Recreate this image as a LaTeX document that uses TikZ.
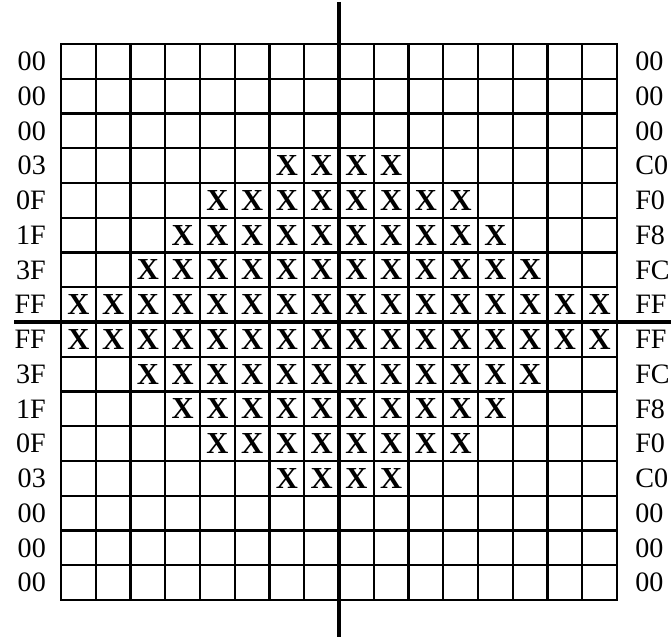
\documentclass[tikz,border=0pt]{standalone}
\usepackage{fontspec}
\setmainfont{Liberation Serif}
\usepackage{tikz}
\usetikzlibrary{positioning}

\begin{document}
\begin{tikzpicture}[
            x=1cm, y=1cm,
            cellgrid/.style={line width=2pt, line cap=rect},
            axis/.style={line width=2.6pt},
            hexl/.style={font=\fontsize{23}{23}\selectfont, anchor=east, inner sep=0pt},
            hexr/.style={font=\fontsize{23}{23}\selectfont, anchor=west, inner sep=0pt},
            xcell/.style={font=\fontsize{25}{25}\selectfont\bfseries, inner sep=0pt}
          ]
          \useasboundingbox (-1.755,-1.122) rectangle (17.554,17.266);
          % the 16 x 16 cell grid
          \draw[cellgrid] (0,0) grid (16,16);
          % hex values per row, left and right byte
          \foreach \r/\lh/\rh in {1/00/00, 2/00/00, 3/00/00, 4/03/C0,
                                  5/0F/F0, 6/1F/F8, 7/3F/FC, 8/FF/FF,
                                  9/FF/FF, 10/3F/FC, 11/1F/F8, 12/0F/F0,
                                  13/03/C0, 14/00/00, 15/00/00, 16/00/00} {
            \node[hexl] (l\r) at (-0.43,16.5-\r) {\lh};
            \node[hexr] (r\r) at (16.52,16.5-\r) {\rh};
          }
          % set pixels: first and last column of each row
          \foreach \r/\a/\b in {4/7/10, 5/5/12, 6/4/13, 7/3/14, 8/1/16,
                                9/1/16, 10/3/14, 11/4/13, 12/5/12, 13/7/10} {
            \foreach \c in {\a,...,\b}
              \node[xcell] (x\r-\c) at (\c-0.5,16.5-\r) {X};
          }
          % axes
          \coordinate (top) at (8,17.21);
          \coordinate (bot) at (8,-1.07);
          \coordinate (west) at (-1.35,8);
          \coordinate (east) at (17.554,8);
          \draw[axis] (top) -- (bot);
          \draw[axis] (west) -- (east);
        \end{tikzpicture}
\end{document}
